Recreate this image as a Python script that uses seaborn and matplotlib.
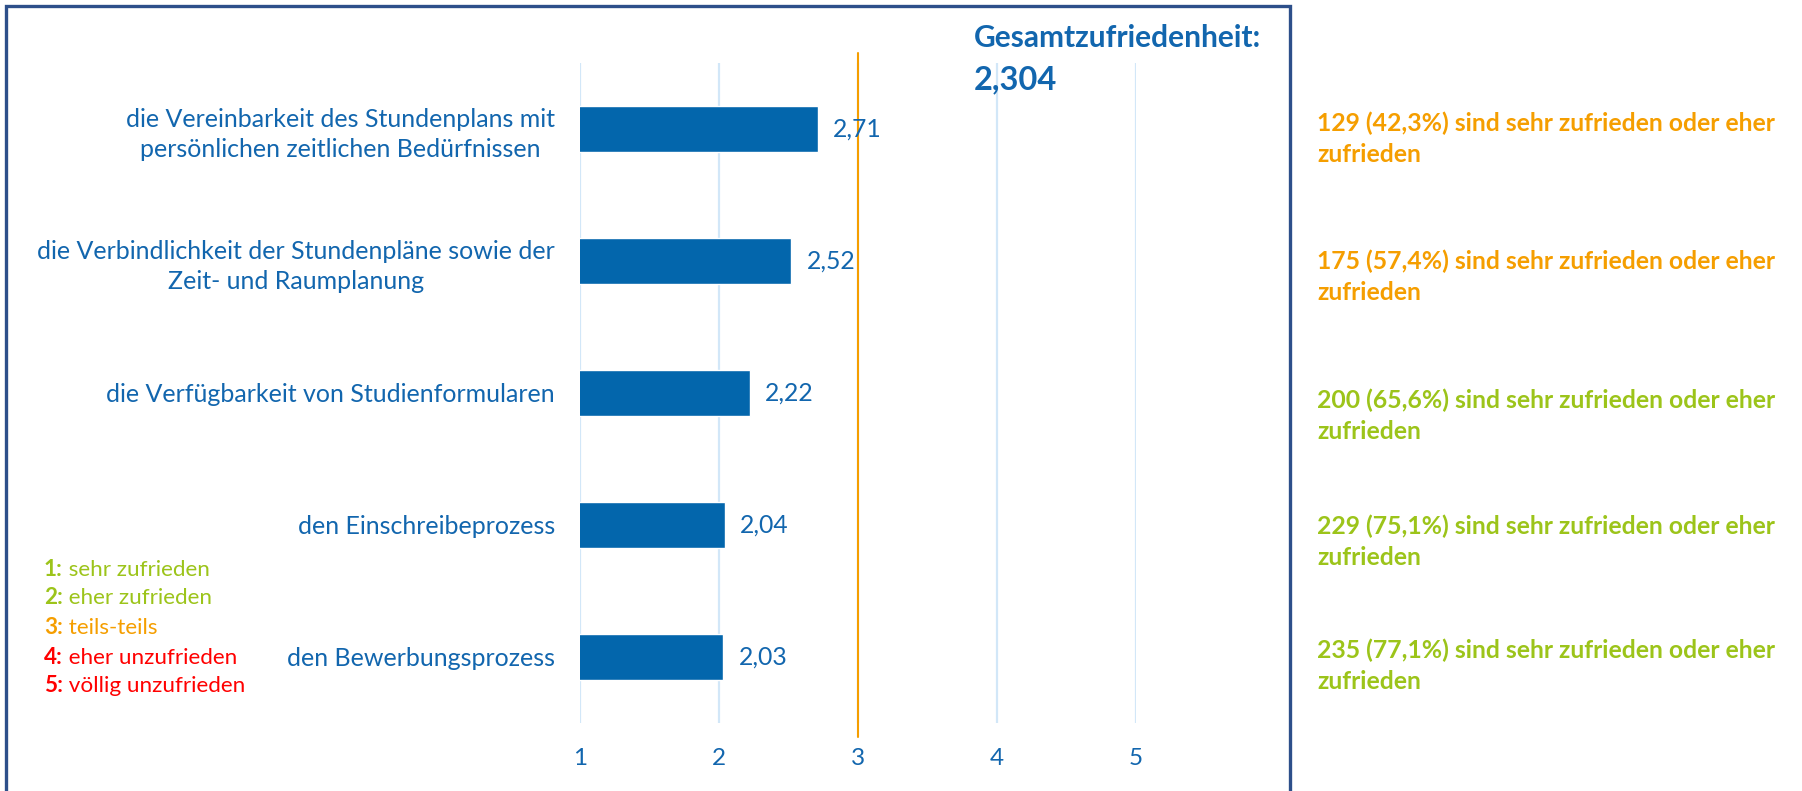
import numpy as np
import pandas as pd
import matplotlib.pyplot as plt
import seaborn as sns
from matplotlib.patches import Rectangle

sns.set_theme(style="white")
plt.rcParams['font.family'] = ['Lato', 'DejaVu Sans']

# -----------------------------
# Data
# -----------------------------
categories = [
    "die Vereinbarkeit des Stundenplans mit\npersönlichen zeitlichen Bedürfnissen",
    "die Verbindlichkeit der Stundenpläne sowie der\nZeit- und Raumplanung",
    "die Verfügbarkeit von Studienformularen",
    "den Einschreibeprozess",
    "den Bewerbungsprozess",
]
means = [2.71, 2.52, 2.22, 2.04, 2.03]
satisfied_n = [129, 175, 200, 229, 235]
satisfied_pct = ["42,3", "57,4", "65,6", "75,1", "77,1"]

scale_keys = ["1:", "2:", "3:", "4:", "5:"]
scale_names = ["sehr zufrieden", "eher zufrieden", "teils-teils",
               "eher unzufrieden", "völlig unzufrieden"]

# -----------------------------
# Colours / layout
# -----------------------------
BLUE = "#0366AC"
TEXT_BLUE = "#1266AE"
ORANGE = "#F59E00"
GREEN = "#9CC41A"
RED = "#FF0000"
GRID = "#D2E7F8"
FRAME = "#2D4F8A"
scale_colors = [GREEN, GREEN, ORANGE, RED, RED]

W, H = 1802, 791
fx = lambda x: x / W
fy = lambda y: 1 - y / H

fig = plt.figure(figsize=(W / 100, H / 100), dpi=100)
ax = fig.add_axes([fx(580), fy(723), fx(1136) - fx(580), fy(63) - fy(723)])

df = pd.DataFrame({"Kategorie": categories, "Mittelwert": means})
sns.barplot(data=df, x="Mittelwert", y="Kategorie", orient="h", color=BLUE,
            saturation=1, width=0.356, ax=ax)

ax.set_xlim(1, 5)
ax.set_ylim(4.5, -0.5)
ax.set_xticks([1, 2, 3, 4, 5])
ax.set_xlabel("")
ax.set_ylabel("")
for s in ax.spines.values():
    s.set_visible(False)
ax.grid(axis="x", color=GRID, lw=1.6)
ax.grid(axis="y", visible=False)
ax.set_axisbelow(True)
ax.tick_params(axis="x", length=0, pad=18, labelsize=17.5, labelcolor=TEXT_BLUE)
ax.tick_params(axis="y", length=0, pad=18, labelsize=18, labelcolor=TEXT_BLUE)
for lbl in ax.get_yticklabels():
    lbl.set_multialignment("center")
    lbl.set_linespacing(1.38)

# midpoint line at 3 (teils-teils)
ax.axvline(3, ymin=-0.021, ymax=1.015, color=ORANGE, lw=1.5, clip_on=False, zorder=3)

# value labels
ax.bar_label(ax.containers[0], labels=[f"{v:.2f}".replace(".", ",") for v in means],
             padding=11, fontsize=17.8, color=TEXT_BLUE)

# overall satisfaction = mean of items
overall = np.mean(means)
fig.text(fx(974), fy(38), "Gesamtzufriedenheit:", fontsize=21.5, fontweight="bold",
         color=TEXT_BLUE, va="center", ha="left")
fig.text(fx(974), fy(80), f"{overall:.3f}".replace(".", ","), fontsize=23.5,
         fontweight="bold", color=TEXT_BLUE, va="center", ha="left")

# notes on the right
note_y = [139, 277, 416, 542, 666]
for n, p, m, y in zip(satisfied_n, satisfied_pct, means, note_y):
    col = ORANGE if m >= 2.5 else GREEN
    fig.text(fx(1317), fy(y), f"{n} ({p}%) sind sehr zufrieden oder eher\nzufrieden",
             fontsize=17.8, fontweight="bold", color=col, va="center", ha="left",
             linespacing=1.43)

# scale legend
legend_y = [570, 598, 628, 657, 685]
for k, name, col, y in zip(scale_keys, scale_names, scale_colors, legend_y):
    t = fig.text(fx(44), fy(y), k, fontsize=16.2, fontweight="bold", color=col,
                 va="center", ha="left")
    ax.annotate(" " + name, xy=(1, 0), xycoords=t, va="bottom", ha="left",
                fontsize=16.2, color=col, annotation_clip=False)

# frame
fig.patches.append(Rectangle((fx(6), -0.05), fx(1290) - fx(6), fy(6) + 0.05,
                             transform=fig.transFigure, fill=False, ec=FRAME, lw=2.4))

plt.savefig("out.png", dpi=100)
